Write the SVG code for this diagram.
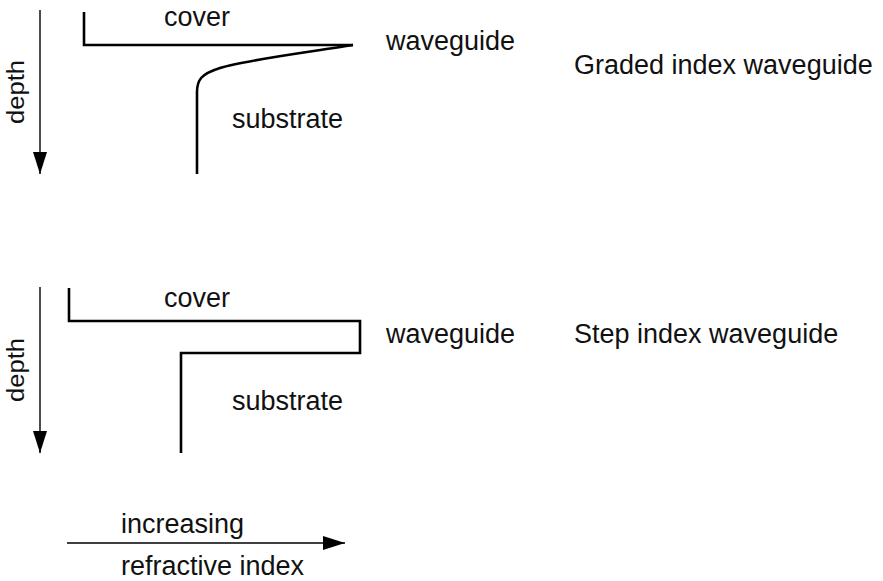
<svg xmlns="http://www.w3.org/2000/svg" width="883" height="581" viewBox="0 0 883 581">
<style>
text{font-family:"Liberation Sans",Arial,sans-serif;font-size:27px;fill:#111}
.prof{fill:none;stroke:#000;stroke-width:2.6}
.axis{fill:none;stroke:#000;stroke-width:1.4}
.depth{font-size:23px}
</style>
<defs>
<marker id="ah" markerUnits="userSpaceOnUse" markerWidth="24" markerHeight="16" refX="22" refY="7" orient="auto">
<path d="M0,0 L22,7 L0,14 Z" fill="#000"/>
</marker>
</defs>
<rect width="883" height="581" fill="#fff"/>
<g id="connectors">
<line class="axis" x1="40" y1="10" x2="40" y2="174" marker-end="url(#ah)"/>
<line class="axis" x1="40" y1="287" x2="40" y2="453" marker-end="url(#ah)"/>
<line class="axis" x1="67" y1="543" x2="345" y2="543" marker-end="url(#ah)"/>
</g>
<g id="graded-profile">
<path class="prof" d="M84,12 V45 H353"/>
<path class="prof" d="M353,45 C310,52 245,60 220,68 C201,74 197,80 197,92 V174"/>
</g>
<g id="step-profile">
<path class="prof" d="M69,288 V321 H360 V353 H181 V453"/>
</g>
<g id="labels-graded">
<text x="164" y="26">cover</text>
<text x="386" y="50">waveguide</text>
<text x="232" y="128">substrate</text>
<text x="574" y="74">Graded index waveguide</text>
<text class="depth" transform="translate(24,92) rotate(-90)" text-anchor="middle" textLength="64" lengthAdjust="spacingAndGlyphs">depth</text>
</g>
<g id="labels-step">
<text x="164" y="307">cover</text>
<text x="386" y="343">waveguide</text>
<text x="232" y="410">substrate</text>
<text x="574" y="343">Step index waveguide</text>
<text class="depth" transform="translate(24,370) rotate(-90)" text-anchor="middle" textLength="64" lengthAdjust="spacingAndGlyphs">depth</text>
</g>
<g id="axis-label">
<text x="121" y="533">increasing</text>
<text x="121" y="575">refractive index</text>
</g>
</svg>
